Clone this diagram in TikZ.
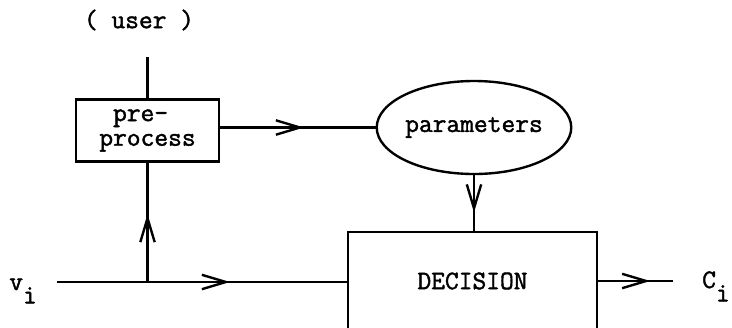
\documentclass[tikz,border=0pt]{standalone}
\usepackage{fontspec}
\newfontfamily\typefont{Latin Modern Mono}[FakeBold=1.6]
\usetikzlibrary{arrows.meta, positioning, shapes.geometric, decorations.markings}

\tikzset{
  midarrow/.style={postaction={decorate}, decoration={markings,
      mark=at position #1 with {\arrow{Straight Barb[length=6mm, width=3.6mm]}}}},
  label text/.style={inner sep=0pt},
}

\begin{document}
\begin{tikzpicture}[x=0.25mm, y=-0.25mm, line width=1.7pt,
    every node/.style={font=\typefont\fontsize{19}{17.5}\selectfont}]
  \useasboundingbox (0,0) rectangle (732,327);

  \node[draw, rectangle, minimum width=35.75mm, minimum height=15.5mm, align=center, inner sep=0pt] (prep) at (147.5,130.5) {pre-\hphantom{-}\\process};
  \node[draw, ellipse, minimum width=45.5mm, minimum height=23.25mm, inner sep=0pt] (par) at (474,127.5) {parameters};
  \node[rectangle, minimum width=61.75mm, minimum height=24mm, inner sep=0pt] (dec) at (472.5,281) {DECISION};
  \draw (dec.south west) -- (dec.north west) -- (dec.north east) -- (dec.south east);

  \node[label text] (user) at (139,20) {( user )};
  \node[label text, anchor=base east] (vi) at (38,290) {v\raisebox{-0.5em}{i}};
  \node[label text, anchor=base west] (ci) at (701,288) {C\raisebox{-0.5em}{i}};

  \coordinate (utop) at (147.5,57);
  \coordinate (vin) at (57,282);
  \coordinate (cout) at (673,281);
  \coordinate (fork) at (prep.south |- vin);

  \draw (utop) -- (prep.north);
  \draw[midarrow=0.54] (par.west -| prep.east) -- (par.west);
  \draw[midarrow=0.66] (par.south) -- (par.south |- dec.north);
  \draw[midarrow=0.595] (vin) -- (vin -| dec.west);
  \draw[midarrow=0.57] (fork) -- (prep.south);
  \draw[midarrow=0.7] (dec.east) -- (cout);
\end{tikzpicture}
\end{document}
